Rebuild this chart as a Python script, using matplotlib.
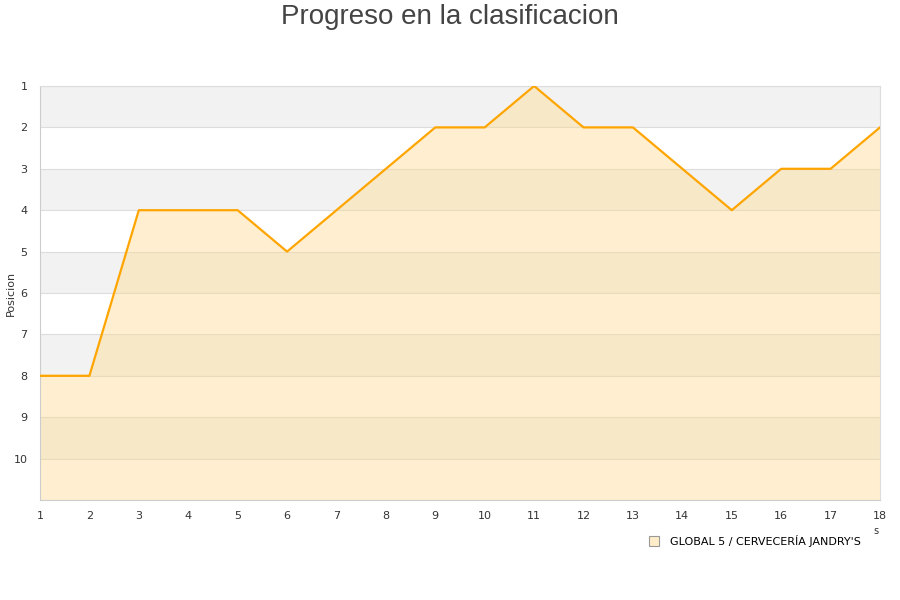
import matplotlib.pyplot as plt

# Datos de la clasificacion por jornada
jornadas = list(range(1, 19))
posiciones = [8, 8, 4, 4, 4, 5, 4, 3, 2, 2, 1, 2, 2, 3, 4, 3, 3, 2]
equipo = "GLOBAL 5 / CERVECERÍA JANDRY'S"
ticks_y = list(range(1, 11))

fig = plt.figure(figsize=(9, 6), dpi=100)
ax = fig.add_axes([40 / 900, 100 / 600, 840 / 900, 414 / 600])

# Bandas alternas de fondo
for k in range(1, 11, 2):
    ax.axhspan(k, k + 1, color='#f2f2f2', zorder=0, lw=0)
for k in range(1, 12):
    ax.axhline(k, color='#dddddd', lw=0.8, zorder=1)

# Area y linea
ax.fill_between(jornadas, posiciones, 11, color='#ffd98a', alpha=0.4, lw=0, zorder=2)
ax.plot(jornadas, posiciones, color='#ffa500', lw=1.6, zorder=3)

ax.set_xlim(1, 18)
ax.set_ylim(11, 1)
ax.set_xticks(jornadas)
ax.set_yticks(ticks_y)
ax.tick_params(length=0, labelsize=8, colors='#333333', pad=8)
ax.tick_params(axis='y', pad=9)
ax.spines['left'].set_color('#cccccc')
ax.spines['bottom'].set_color('#cccccc')
ax.spines['right'].set_color('#dddddd')
ax.spines['top'].set_color('#dddddd')

# Etiqueta del eje y
fig.text(11 / 900, 1 - 293 / 600, 'Posicion', fontsize=8, color='#333333',
         rotation=90, ha='center', va='center')
fig.text(876 / 900, 1 - 531 / 600, 's', fontsize=7, color='#333333', ha='center', va='center')

fig.text(0.5, 1 - 17 / 600, 'Progreso en la clasificacion', fontsize=20, color='#444444',
         ha='center', va='center', family='Liberation Sans')

# Leyenda
leg_handle = plt.Line2D([], [], marker='s', ls='', markersize=7,
                        markerfacecolor='#ffecc8', markeredgecolor='#999999', markeredgewidth=0.8)
fig.legend([leg_handle], [equipo], loc='center', bbox_to_anchor=(752 / 900, 1 - 541 / 600),
           frameon=False, fontsize=8, handletextpad=0.5)

plt.savefig('out.png', dpi=100)
